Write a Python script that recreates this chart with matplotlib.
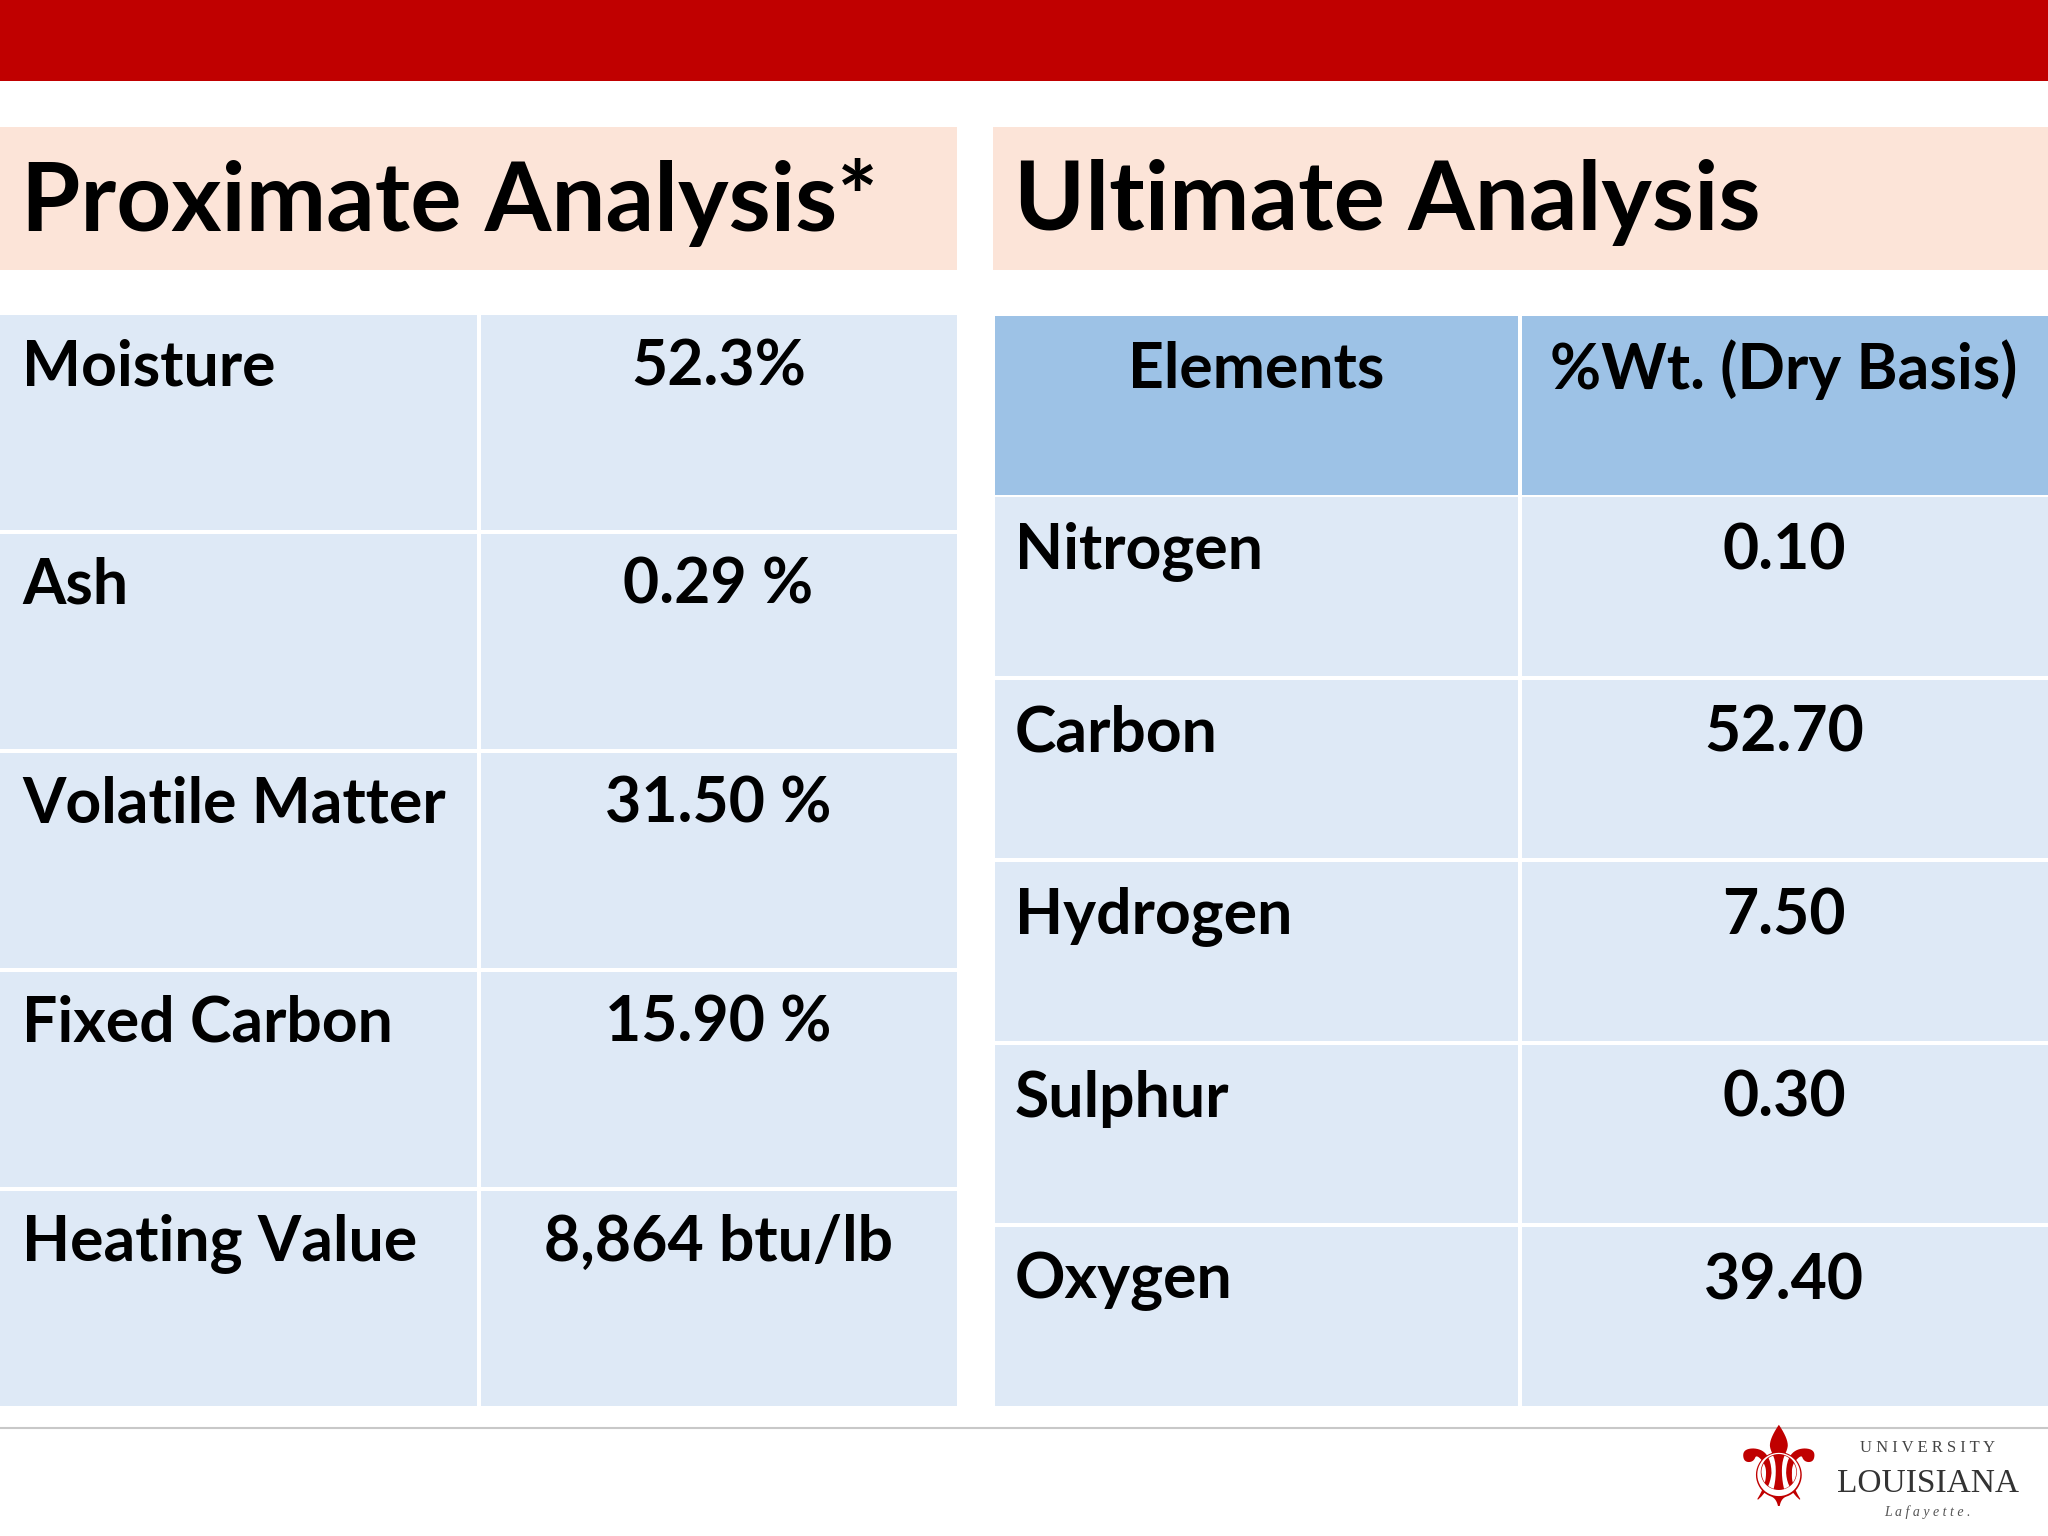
import matplotlib.pyplot as plt
from matplotlib.patches import Rectangle

# data
prox_labels = ['Moisture', 'Ash', 'Volatile Matter', 'Fixed Carbon', 'Heating Value']
prox_values = ['52.3%', '0.29 %', '31.50 %', '15.90 %', '8,864 btu/lb']
ult_header = ['Elements', '%Wt. (Dry Basis)']
ult_labels = ['Nitrogen', 'Carbon', 'Hydrogen', 'Sulphur', 'Oxygen']
ult_values = ['0.10', '52.70', '7.50', '0.30', '39.40']

W, H = 1568, 1176
fig = plt.figure(figsize=(20.48, 15.36), dpi=100)
ax = fig.add_axes([0, 0, 1, 1])
ax.set_xlim(0, W)
ax.set_ylim(H, 0)
ax.axis('off')

FONT = 'Lato'
cell = '#DEE9F6'
hdr = '#9DC2E6'
peach = '#FCE4D8'

def box(x0, y0, x1, y1, c):
    ax.add_patch(Rectangle((x0, y0), x1 - x0, y1 - y0, color=c, lw=0))

# top red band
box(0, 0, W, 62, '#C00000')

# title boxes
box(0, 97, 733, 207, peach)
box(760, 97, W, 207, peach)
ax.text(16, 155, 'Proximate Analysis*', fontsize=69, fontweight='bold', family=FONT, va='center')
ax.text(776, 155, 'Ultimate Analysis', fontsize=69, fontweight='bold', family=FONT, va='center')

# left table
ltop, lbot = 240, 1078
rh = (lbot - ltop) / len(prox_labels)
for i, (lab, val) in enumerate(zip(prox_labels, prox_values)):
    y0 = ltop + i * rh
    box(0, y0 + 1.5, 365, y0 + rh - 1.5, cell)
    box(368, y0 + 1.5, 733, y0 + rh - 1.5, cell)
    ax.text(17, y0 + 41, lab, fontsize=45, fontweight='bold', family=FONT, va='center')
    ax.text(550, y0 + 41, val, fontsize=45, fontweight='bold', family=FONT, va='center', ha='center')

# right table
rtop, hbot = 242, 379
box(762, rtop, 1162, hbot, hdr)
box(1165, rtop, W, hbot, hdr)
ax.text(962, rtop + 41, ult_header[0], fontsize=45, fontweight='bold', family=FONT, va='center', ha='center')
ax.text(1366, rtop + 41, ult_header[1], fontsize=45, fontweight='bold', family=FONT, va='center', ha='center')
rh2 = (1078 - hbot) / len(ult_labels)
for i, (lab, val) in enumerate(zip(ult_labels, ult_values)):
    y0 = hbot + i * rh2
    box(762, y0 + 1.5, 1162, y0 + rh2 - 1.5, cell)
    box(1165, y0 + 1.5, W, y0 + rh2 - 1.5, cell)
    ax.text(777, y0 + 43, lab, fontsize=45, fontweight='bold', family=FONT, va='center')
    ax.text(1366, y0 + 43, val, fontsize=45, fontweight='bold', family=FONT, va='center', ha='center')

# bottom rule
ax.plot([0, W], [1093, 1093], color='#C8C8C8', lw=1.5)

# logo
ax.text(1362, 1130, '\u269C', fontsize=80, color='#C00000', ha='center', va='center', family='DejaVu Sans')
ax.text(1476, 1109, 'U N I V E R S I T Y', fontsize=12, family='Liberation Serif', ha='center', va='center', color='#444444')
ax.text(1476, 1136, 'LOUISIANA', fontsize=24, family='Liberation Serif', ha='center', va='center', color='#333333')
ax.text(1476, 1158, 'L a f a y e t t e .', fontsize=10, style='italic', family='Liberation Serif', ha='center', va='center', color='#555555')

fig.savefig('out.png', dpi=100)
